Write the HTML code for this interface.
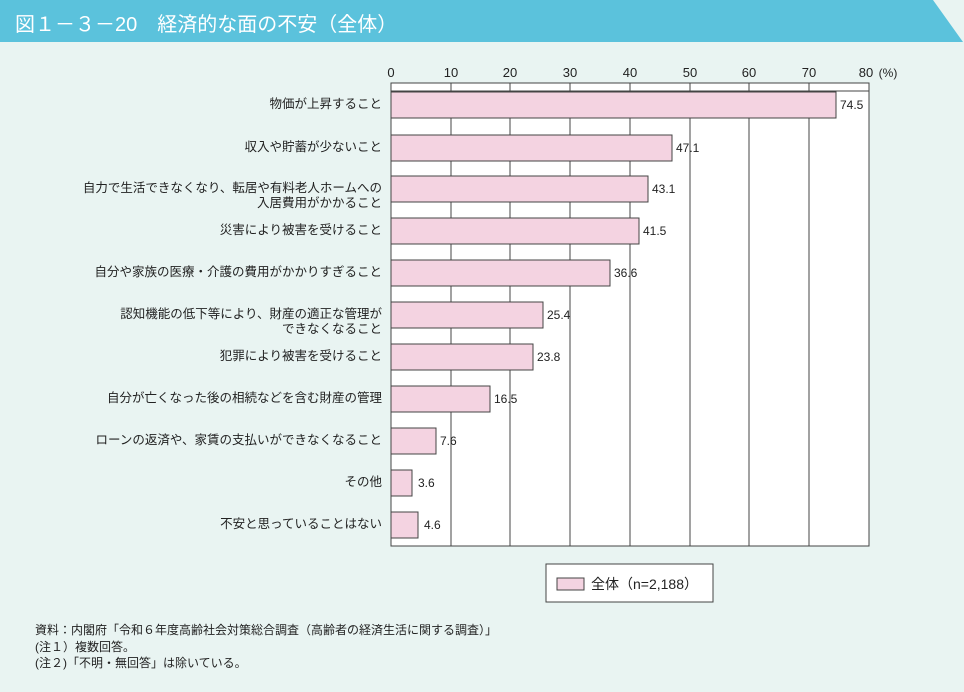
<!DOCTYPE html>
<html><head><meta charset="utf-8"><style>
body{margin:0;width:964px;height:692px;background:#e9f4f2;font-family:"Liberation Sans","Noto Sans CJK JP",sans-serif;overflow:hidden;position:relative}
.t{position:absolute;white-space:nowrap;color:#222}
</style></head><body>
<svg width="964" height="692" style="position:absolute;left:0;top:0">
<polygon points="0,0 933,0 963,42 0,42" fill="#5bc2dc"/>
<rect x="391" y="83" width="478" height="463" fill="#fff" stroke="#444" stroke-width="1"/>
<line x1="391" y1="91" x2="869" y2="91" stroke="#444"/>
<g stroke="#444" stroke-width="1">
<line x1="451" y1="83" x2="451" y2="546"/><line x1="510" y1="83" x2="510" y2="546"/>
<line x1="570" y1="83" x2="570" y2="546"/><line x1="630" y1="83" x2="630" y2="546"/>
<line x1="690" y1="83" x2="690" y2="546"/><line x1="749" y1="83" x2="749" y2="546"/>
<line x1="809" y1="83" x2="809" y2="546"/>
</g>
<g fill="#f4d3e1" stroke="#444" stroke-width="1">
<rect x="391" y="92" width="445" height="26"/>
<rect x="391" y="135" width="281" height="26"/>
<rect x="391" y="176" width="257" height="26"/>
<rect x="391" y="218" width="248" height="26"/>
<rect x="391" y="260" width="219" height="26"/>
<rect x="391" y="302" width="152" height="26"/>
<rect x="391" y="344" width="142" height="26"/>
<rect x="391" y="386" width="99" height="26"/>
<rect x="391" y="428" width="45" height="26"/>
<rect x="391" y="470" width="21" height="26"/>
<rect x="391" y="512" width="27" height="26"/>
</g>
<g font-size="13" fill="#222" font-family="Liberation Sans,sans-serif" text-anchor="middle">
<text x="391" y="77">0</text><text x="451" y="77">10</text><text x="510" y="77">20</text><text x="570" y="77">30</text><text x="630" y="77">40</text><text x="690" y="77">50</text><text x="749" y="77">60</text><text x="809" y="77">70</text><text x="866" y="77">80</text>
<text x="888" y="77" font-size="12">(%)</text>
</g>
<g font-size="12" fill="#222" font-family="Liberation Sans,sans-serif">
<text x="840" y="109">74.5</text><text x="676" y="152">47.1</text><text x="652" y="193">43.1</text>
<text x="643" y="235">41.5</text><text x="614" y="277">36.6</text><text x="547" y="319">25.4</text>
<text x="537" y="361">23.8</text><text x="494" y="403">16.5</text><text x="440" y="445">7.6</text>
<text x="418" y="487">3.6</text><text x="424" y="529">4.6</text>
</g>
<rect x="546" y="564" width="167" height="38" fill="#fff" stroke="#444"/>
<rect x="557" y="578" width="27" height="12" fill="#f4d3e1" stroke="#444"/>
</svg>
<div class="t" style="left:15px;top:8px;font-size:20px;color:#fff">図１－３－20　経済的な面の不安（全体）</div>
<div class="t" style="left:591px;top:574px;font-size:14px">全体（n=2,188）</div>
<div style="position:absolute;right:582px;top:0;font-size:12.5px;color:#222;text-align:right;line-height:15px">
<div style="position:absolute;right:0;top:97px;white-space:nowrap">物価が上昇すること</div>
<div style="position:absolute;right:0;top:140px;white-space:nowrap">収入や貯蓄が少ないこと</div>
<div style="position:absolute;right:0;top:181px;white-space:nowrap">自力で生活できなくなり、転居や有料老人ホームへの<br>入居費用がかかること</div>
<div style="position:absolute;right:0;top:223px;white-space:nowrap">災害により被害を受けること</div>
<div style="position:absolute;right:0;top:265px;white-space:nowrap">自分や家族の医療・介護の費用がかかりすぎること</div>
<div style="position:absolute;right:0;top:307px;white-space:nowrap">認知機能の低下等により、財産の適正な管理が<br>できなくなること</div>
<div style="position:absolute;right:0;top:349px;white-space:nowrap">犯罪により被害を受けること</div>
<div style="position:absolute;right:0;top:391px;white-space:nowrap">自分が亡くなった後の相続などを含む財産の管理</div>
<div style="position:absolute;right:0;top:433px;white-space:nowrap">ローンの返済や、家賃の支払いができなくなること</div>
<div style="position:absolute;right:0;top:475px;white-space:nowrap">その他</div>
<div style="position:absolute;right:0;top:517px;white-space:nowrap">不安と思っていることはない</div>
</div>
<div class="t" style="left:35px;top:622px;font-size:12px;line-height:16.5px">資料：内閣府「令和６年度高齢社会対策総合調査（高齢者の経済生活に関する調査）」<br>(注１）複数回答。<br>(注２)「不明・無回答」は除いている。</div>
</body></html>
